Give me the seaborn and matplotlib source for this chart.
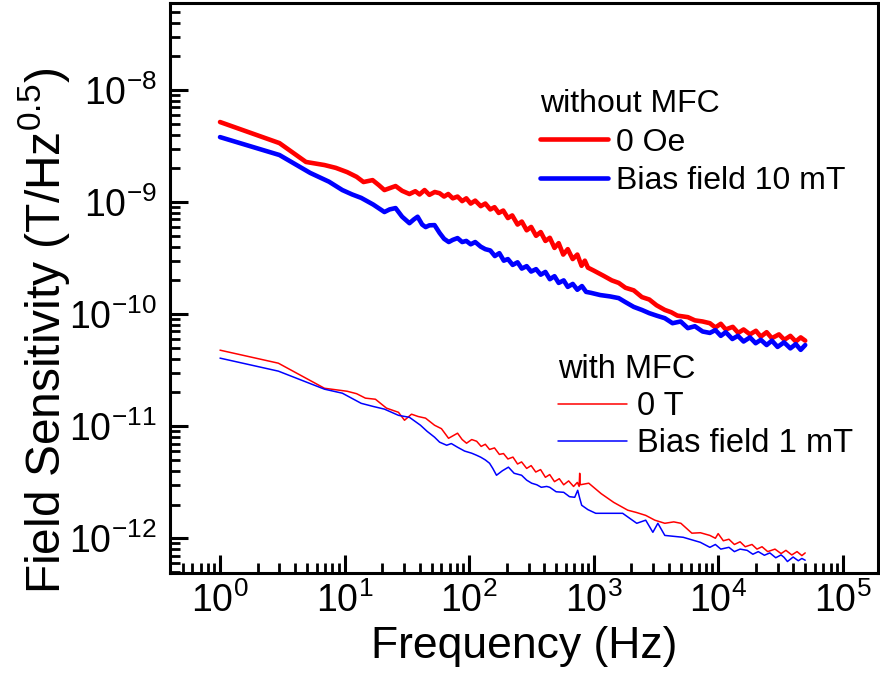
import matplotlib
matplotlib.use("Agg")
import matplotlib.pyplot as plt
import seaborn as sns
import pandas as pd
from matplotlib.ticker import LogLocator, NullFormatter

# ---------------- data ----------------
f_red_thick = [1, 3.0, 4.9, 6.9, 8.5, 10.5, 12.5, 14.2, 16.8, 18.8, 20.9, 23, 25.7, 29, 33.2, 37, 40,
               43.9, 48, 53, 57.9, 63, 68, 74, 80.8, 88, 95, 103, 112, 124, 135, 148, 160, 173, 188,
               205, 222, 245, 265, 290, 315, 345, 376, 410, 445, 485, 524, 570, 620, 679, 740, 800,
               850, 900, 1000, 1200, 1400, 1590, 1800, 2100, 2440, 2800, 3200, 3730, 4200, 4700,
               5710, 6500, 7500, 8580, 9500, 10500, 11500, 13100, 14500, 16000, 18000, 20100,
               22000, 24500, 27000, 30800, 34000, 38000, 42000, 46000, 50000]
v_red_thick = [5.18e-9, 3.36e-9, 2.28e-9, 2.14e-9, 2.02e-9, 1.85e-9, 1.68e-9, 1.51e-9, 1.57e-9,
               1.42e-9, 1.28e-9, 1.33e-9, 1.39e-9, 1.26e-9, 1.18e-9, 1.25e-9, 1.17e-9, 1.28e-9,
               1.16e-9, 1.23e-9, 1.20e-9, 1.12e-9, 1.18e-9, 1.08e-9, 1.12e-9, 1.02e-9, 1.08e-9,
               0.97e-9, 1.03e-9, 0.92e-9, 0.97e-9, 0.86e-9, 0.90e-9, 0.80e-9, 0.84e-9, 0.72e-9,
               0.76e-9, 0.63e-9, 0.67e-9, 0.56e-9, 0.60e-9, 0.50e-9, 0.54e-9, 0.45e-9, 0.48e-9,
               0.39e-9, 0.43e-9, 0.34e-9, 0.38e-9, 0.31e-9, 0.34e-9, 0.27e-9, 0.30e-9, 0.26e-9,
               0.245e-9, 0.22e-9, 0.20e-9, 0.19e-9, 0.172e-9, 0.163e-9, 0.142e-9, 0.135e-9,
               0.12e-9, 0.109e-9, 0.104e-9, 0.097e-9, 0.094e-9, 0.088e-9, 0.086e-9, 0.083e-9,
               0.076e-9, 0.082e-9, 0.073e-9, 0.077e-9, 0.068e-9, 0.073e-9, 0.066e-9, 0.071e-9,
               0.063e-9, 0.069e-9, 0.061e-9, 0.066e-9, 0.059e-9, 0.064e-9, 0.057e-9, 0.062e-9,
               0.058e-9]

f_blue_thick = [1, 3.0, 5.3, 7.5, 9.6, 11.5, 13.6, 17, 20.9, 23, 25.7, 29, 33.2, 36, 38.6, 42, 44.8,
                48, 52.8, 58, 63, 68.7, 74, 80.8, 88, 95, 103, 112, 124, 135, 148, 161, 175, 190,
                205, 224, 245, 265, 290, 315, 345, 376, 410, 445, 485, 524, 575, 620, 680, 740,
                806, 870, 950, 1130, 1350, 1590, 1800, 2100, 2440, 2800, 3200, 3730, 4300, 5000,
                5710, 6500, 7500, 8580, 9500, 10500, 11500, 13000, 14400, 16000, 18000, 20000,
                22000, 24500, 27000, 30000, 33800, 38000, 42000, 46000, 50000]
v_blue_thick = [3.80e-9, 2.63e-9, 1.82e-9, 1.52e-9, 1.28e-9, 1.17e-9, 1.09e-9, 0.95e-9, 0.815e-9,
                0.86e-9, 0.884e-9, 0.74e-9, 0.648e-9, 0.70e-9, 0.74e-9, 0.63e-9, 0.598e-9, 0.62e-9,
                0.623e-9, 0.53e-9, 0.47e-9, 0.44e-9, 0.46e-9, 0.477e-9, 0.44e-9, 0.45e-9, 0.42e-9,
                0.44e-9, 0.40e-9, 0.38e-9, 0.37e-9, 0.33e-9, 0.35e-9, 0.30e-9, 0.31e-9, 0.275e-9,
                0.29e-9, 0.255e-9, 0.268e-9, 0.24e-9, 0.252e-9, 0.225e-9, 0.238e-9, 0.205e-9,
                0.218e-9, 0.19e-9, 0.20e-9, 0.175e-9, 0.186e-9, 0.165e-9, 0.178e-9, 0.158e-9,
                0.155e-9, 0.148e-9, 0.144e-9, 0.139e-9, 0.128e-9, 0.116e-9, 0.109e-9, 0.102e-9,
                0.097e-9, 0.092e-9, 0.083e-9, 0.086e-9, 0.075e-9, 0.078e-9, 0.070e-9, 0.068e-9,
                0.072e-9, 0.064e-9, 0.069e-9, 0.060e-9, 0.064e-9, 0.057e-9, 0.062e-9, 0.055e-9,
                0.059e-9, 0.053e-9, 0.058e-9, 0.051e-9, 0.056e-9, 0.0495e-9, 0.054e-9, 0.048e-9,
                0.053e-9]

f_red_thin = [1, 2.94, 6.9, 10.5, 12.5, 14.7, 17.7, 21.7, 27.1, 30.3, 34.5, 39, 44.7, 52.8, 60,
              68.4, 80.8, 88, 95.4, 105, 115, 125, 135, 146, 160, 175, 189, 205, 225, 245, 264,
              290, 315, 343, 375, 410, 444, 485, 530, 575, 630, 690, 740, 765, 773, 780, 914,
              1150, 1450, 1880, 2200, 2620, 3100, 3730, 4400, 5020, 6150, 7200, 8580, 9500,
              10000, 11000, 12200, 13500, 15000, 16500, 18700, 20500, 22500, 25000, 28600,
              32000, 35000, 39000, 43000, 47000, 50000]
v_red_thin = [4.77e-11, 3.65e-11, 2.18e-11, 2.05e-11, 1.95e-11, 1.78e-11, 1.74e-11, 1.45e-11,
              1.33e-11, 1.13e-11, 1.28e-11, 1.22e-11, 1.18e-11, 1.02e-11, 0.95e-11, 0.78e-11,
              0.866e-11, 0.76e-11, 0.705e-11, 0.76e-11, 0.734e-11, 0.66e-11, 0.69e-11, 0.62e-11,
              0.64e-11, 0.56e-11, 0.57e-11, 0.51e-11, 0.53e-11, 0.46e-11, 0.48e-11, 0.42e-11,
              0.445e-11, 0.39e-11, 0.41e-11, 0.35e-11, 0.37e-11, 0.32e-11, 0.34e-11, 0.30e-11,
              0.325e-11, 0.29e-11, 0.315e-11, 0.29e-11, 0.38e-11, 0.30e-11, 0.31e-11, 0.25e-11,
              0.209e-11, 0.178e-11, 0.17e-11, 0.16e-11, 0.145e-11, 0.136e-11, 0.14e-11,
              0.136e-11, 0.111e-11, 0.112e-11, 0.106e-11, 0.100e-11, 0.110e-11, 0.095e-11,
              0.098e-11, 0.088e-11, 0.093e-11, 0.084e-11, 0.088e-11, 0.080e-11, 0.084e-11,
              0.076e-11, 0.080e-11, 0.073e-11, 0.078e-11, 0.071e-11, 0.076e-11, 0.070e-11,
              0.074e-11]

f_blue_thin = [1, 2.94, 6.9, 9.6, 13.6, 17, 20.9, 27.1, 33.2, 40.7, 46, 52.8, 58, 66.1, 72, 80.8,
               92, 105, 115, 124, 135, 146, 155, 166, 185, 207, 230, 264, 290, 318, 350, 380,
               420, 444, 500, 575, 640, 705, 745, 773, 802, 900, 1040, 1400, 1710, 2220, 2620,
               2990, 3280, 3730, 5240, 7190, 8580, 9500, 10500, 12200, 13500, 15000, 17100,
               19000, 21000, 23500, 26000, 29000, 32000, 33800, 36000, 40000, 44000, 47000,
               50000]
v_blue_thin = [4.05e-11, 3.10e-11, 2.14e-11, 1.97e-11, 1.60e-11, 1.50e-11, 1.42e-11, 1.25e-11,
               1.20e-11, 1.02e-11, 0.90e-11, 0.798e-11, 0.72e-11, 0.676e-11, 0.70e-11,
               0.649e-11, 0.60e-11, 0.574e-11, 0.55e-11, 0.529e-11, 0.50e-11, 0.467e-11,
               0.42e-11, 0.365e-11, 0.40e-11, 0.431e-11, 0.38e-11, 0.365e-11, 0.33e-11,
               0.31e-11, 0.30e-11, 0.285e-11, 0.29e-11, 0.285e-11, 0.26e-11, 0.257e-11,
               0.235e-11, 0.232e-11, 0.268e-11, 0.228e-11, 0.197e-11, 0.18e-11, 0.167e-11,
               0.167e-11, 0.167e-11, 0.136e-11, 0.145e-11, 0.113e-11, 0.136e-11, 0.106e-11,
               0.102e-11, 0.092e-11, 0.083e-11, 0.088e-11, 0.080e-11, 0.083e-11, 0.076e-11,
               0.080e-11, 0.078e-11, 0.072e-11, 0.076e-11, 0.0705e-11, 0.074e-11, 0.067e-11,
               0.071e-11, 0.0676e-11, 0.062e-11, 0.068e-11, 0.063e-11, 0.066e-11, 0.0637e-11]

legend1_title = "without MFC"
legend1_labels = ["0 Oe", "Bias field 10 mT"]
legend2_title = "with MFC"
legend2_labels = ["0 T", "Bias field 1 mT"]
x_ticks = [1e0, 1e1, 1e2, 1e3, 1e4, 1e5]
y_ticks = [1e-12, 1e-11, 1e-10, 1e-9, 1e-8]

# ---------------- style ----------------
sns.set_style("ticks")
plt.rcParams["font.family"] = ["Liberation Sans", "DejaVu Sans"]
plt.rcParams["mathtext.fontset"] = "custom"
plt.rcParams["mathtext.rm"] = "Liberation Sans"
plt.rcParams["mathtext.it"] = "Liberation Sans:italic"
plt.rcParams["mathtext.bf"] = "Liberation Sans:bold"
plt.rcParams["mathtext.default"] = "regular"
plt.rcParams["axes.unicode_minus"] = False
for k in ["text.color", "axes.labelcolor", "xtick.color", "ytick.color", "axes.edgecolor"]:
    plt.rcParams[k] = "black"

tick_size = 27

fig = plt.figure(figsize=(8.8, 6.92), dpi=100)
ax = fig.add_axes([0.1937, 0.172, 0.804, 0.8237])

series = [
    (f_red_thick, v_red_thick, "#ff0000", 3.3),
    (f_blue_thick, v_blue_thick, "#0000ff", 3.3),
    (f_red_thin, v_red_thin, "#ff0000", 1.1),
    (f_blue_thin, v_blue_thin, "#0000ff", 1.1),
]
for fx, vy, col, lw in series:
    df = pd.DataFrame({"f": fx, "v": vy})
    sns.lineplot(data=df, x="f", y="v", ax=ax, color=col, linewidth=lw,
                 estimator=None, sort=False, legend=False)

h = ax.lines[:4]

ax.set_xscale("log")
ax.set_yscale("log")
ax.set_xlim(0.4, 1.92e5)
ax.set_ylim(4.9e-13, 5.98e-8)
ax.set_xticks(x_ticks)
ax.set_yticks(y_ticks)
ax.xaxis.set_minor_locator(LogLocator(base=10, subs=range(2, 10), numticks=20))
ax.yaxis.set_minor_locator(LogLocator(base=10, subs=range(2, 10), numticks=20))
ax.xaxis.set_minor_formatter(NullFormatter())
ax.yaxis.set_minor_formatter(NullFormatter())

for s in ax.spines.values():
    s.set_linewidth(2.2)
    s.set_color("black")
ax.tick_params(which="both", direction="in", top=False, right=False, color="black")
ax.tick_params(which="major", length=13, width=2.2, labelsize=tick_size)
ax.tick_params(which="minor", length=7, width=2.0)
ax.tick_params(axis="x", which="major", pad=7)
ax.tick_params(axis="y", which="major", pad=10)

ax.set_xlabel("Frequency (Hz)", fontsize=32, labelpad=4)
ax.set_ylabel("Field Sensitivity (T/Hz$^{0.5}$)", fontsize=34.5)
ax.yaxis.set_label_coords(-0.139, 0.425)

leg1 = ax.legend(handles=[h[0], h[1]], labels=legend1_labels, title=legend1_title,
                 loc="upper left", bbox_to_anchor=(0.522, 0.849), frameon=False,
                 fontsize=23, title_fontsize=23,
                 handlelength=2.15, handletextpad=0.25,
                 labelspacing=0.27, borderpad=0, borderaxespad=0, alignment="left")
ax.add_artist(leg1)
leg2 = ax.legend(handles=[h[2], h[3]], labels=legend2_labels, title=legend2_title,
                 loc="upper left", bbox_to_anchor=(0.548, 0.384), frameon=False,
                 fontsize=23.5, title_fontsize=23.5,
                 handlelength=2.1, handletextpad=0.3,
                 labelspacing=0.19, borderpad=0, borderaxespad=0, alignment="left")

fig.savefig("out.png", dpi=100)
